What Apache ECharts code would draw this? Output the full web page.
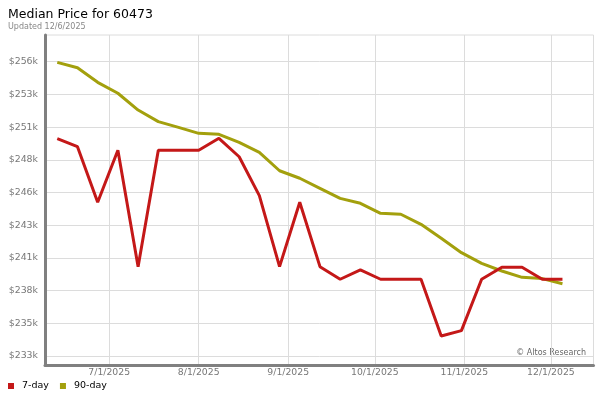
<!DOCTYPE html>
<html>
<head>
<meta charset="utf-8">
<script src="https://cdn.jsdelivr.net/npm/echarts@6/dist/echarts.min.js"></script>
<style>
html,body{margin:0;padding:0;background:#fff;}
#chart{width:600px;height:400px;}
</style>
</head>
<body>
<div id="chart"></div>
<script>
// Weekly dates (Fridays)
var dates = ['2025-06-13','2025-06-20','2025-06-27','2025-07-04','2025-07-11','2025-07-18','2025-07-25',
  '2025-08-01','2025-08-08','2025-08-15','2025-08-22','2025-08-29','2025-09-05','2025-09-12',
  '2025-09-19','2025-09-26','2025-10-03','2025-10-10','2025-10-17','2025-10-24','2025-10-31',
  '2025-11-07','2025-11-14','2025-11-21','2025-11-28','2025-12-05'];
var sevenDay = [249880,249250,244880,248970,239820,248970,248970,248970,249910,248460,245400,239820,244880,239820,
  238830,239560,238830,238830,238830,234370,234790,238830,239770,239770,238830,238830];
var ninetyDay = [255880,255460,254310,253450,252130,251220,250770,250300,250220,249590,248810,247360,246770,245980,
  245190,244800,244010,243940,243150,242050,240920,240080,239480,238980,238880,238480];
var yTicks = [232800,235370,237940,240510,243080,245650,248220,250790,253360,255930];

function pairs(vals){ return dates.map(function(d,i){ return [d, vals[i]]; }); }

var FONT = 'DejaVu Sans';
var chart = echarts.init(document.getElementById('chart'), null, {renderer:'canvas'});
chart.setOption({
  animation: false,
  backgroundColor: '#fff',
  title: {
    text: 'Median Price for 60473',
    subtext: 'Updated 12/6/2025',
    left: 3, top: 3,
    itemGap: 2,
    textStyle: {fontFamily: FONT, fontSize: 12.5, fontWeight: 'normal', color: '#000'},
    subtextStyle: {fontFamily: FONT, fontSize: 8, color: '#888'}
  },
  legend: {
    left: 3, top: 376,
    icon: 'rect', itemWidth: 6, itemHeight: 6, itemGap: 11,
    textStyle: {fontFamily: FONT, fontSize: 9.5, color: '#000', padding: [0,0,0,3]},
    data: ['7-day','90-day']
  },
  grid: {left: 45, right: 6.5, top: 35, bottom: 35, show: true, borderColor: '#dcdcdc', borderWidth: 1},
  xAxis: {
    type: 'time',
    min: '2025-06-08T18:00:00',
    max: '2025-12-15T18:00:00',
    minInterval: 28*86400000,
    maxInterval: 31*86400000,
    axisLine: {lineStyle: {color: '#808080', width: 3}},
    axisTick: {show: false},
    splitLine: {show: true, lineStyle: {color: '#dcdcdc', width: 1}},
    axisLabel: {
      margin: 3, color: '#777', fontFamily: FONT, fontSize: 9.3,
      formatter: function(v){ var d = new Date(v); return (d.getMonth()+1)+'/'+d.getDate()+'/'+d.getFullYear(); }
    }
  },
  yAxis: {
    type: 'value',
    min: 232090, max: 258030,
    axisLine: {show: true, lineStyle: {color: '#808080', width: 3}},
    axisTick: {show: false, customValues: yTicks},
    splitLine: {show: true, lineStyle: {color: '#dcdcdc', width: 1}},
    axisLabel: {
      customValues: yTicks,
      margin: 7, color: '#777', fontFamily: FONT, fontSize: 9.4,
      formatter: function(v){ return '$' + Math.round(v/1000) + 'k'; }
    }
  },
  graphic: [{
    type: 'text', right: 14, top: 349,
    style: {text: '\u00A9 Altos Research', fontFamily: FONT, fontSize: 8, fill: '#666'}
  }],
  series: [
    {name: '7-day', type: 'line', data: pairs(sevenDay), showSymbol: false, symbol: 'none',
     lineStyle: {color: '#c41818', width: 3}, itemStyle: {color: '#c41818'}, z: 3},
    {name: '90-day', type: 'line', data: pairs(ninetyDay), showSymbol: false, symbol: 'none',
     lineStyle: {color: '#a3a00d', width: 3}, itemStyle: {color: '#a3a00d'}, z: 2}
  ]
});
</script>
</body>
</html>
